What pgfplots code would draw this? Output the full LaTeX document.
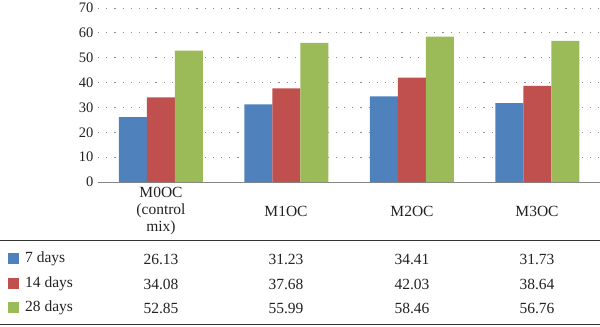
\documentclass[border=0pt]{standalone}
\usepackage{fontspec}
\setmainfont{Liberation Serif}
\usepackage{pgfplots}
\usepackage{pgfplotstable}
\pgfplotsset{compat=1.18}
\definecolor{cblue}{HTML}{4F81BD}
\definecolor{cred}{HTML}{C0504D}
\definecolor{cgreen}{HTML}{9BBB59}
\definecolor{gridc}{HTML}{8C8C8C}
\definecolor{axc}{HTML}{868686}
\definecolor{txt}{HTML}{222222}

\pgfplotstableread{
x d7 d14 d28
0 26.13 34.08 52.85
1 31.23 37.68 55.99
2 34.41 42.03 58.46
3 31.73 38.64 56.76
}\datatable

\begin{document}
\begin{tikzpicture}[x=1bp,y=1bp]
\useasboundingbox (0,0) rectangle (600,-326);
\begin{axis}[
  at={(98bp,-182bp)}, anchor=south west,
  scale only axis, width=502bp, height=174bp,
  xmin=-0.5, xmax=3.5, ymin=0, ymax=70,
  ybar=0pt, bar width=28bp,
  axis x line=bottom, axis y line=left,
  x axis line style={draw=axc, line width=1bp, -},
  y axis line style={draw=none},
  xtick=\empty, ytick={0,10,...,70},
  major tick length=0pt,
  ymajorgrids,
  grid style={draw=gridc, line width=1bp, dash pattern=on 1.2bp off 7bp},
  yticklabel style={font=\fontsize{14.5bp}{16bp}\selectfont, text=txt, xshift=-1bp},
  /pgf/number format/assume math mode=true,
  clip=false,
]
\addplot[fill=cblue, draw=none] table[x=x,y=d7]{\datatable};
\addplot[fill=cred, draw=none] table[x=x,y=d14]{\datatable};
\addplot[fill=cgreen, draw=none] table[x=x,y=d28]{\datatable};
\end{axis}

% table
\begin{scope}[every node/.style={font=\fontsize{15.5bp}{17bp}\selectfont, text=txt, inner sep=0pt}]
\node[align=center] at (161,-211) {M0OC\\(control\\mix)};
\node at (286,-211) {M1OC};
\node at (412,-211) {M2OC};
\node at (537,-211) {M3OC};
\draw[line width=1bp, draw=black!80] (0,-240) -- (600,-240);
\draw[line width=1bp, draw=black!80] (0,-324.5) -- (600,-324.5);
\fill[cblue] (8,-253) rectangle (19,-264);
\fill[cred] (8,-278) rectangle (19,-289);
\fill[cgreen] (8,-302) rectangle (19,-313);
\node[anchor=west] at (25,-259) {7 days};
\node[anchor=west] at (25,-284) {14 days};
\node[anchor=west] at (25,-308) {28 days};
\node at (161,-259) {26.13};
\node at (286,-259) {31.23};
\node at (412,-259) {34.41};
\node at (537,-259) {31.73};
\node at (161,-284) {34.08};
\node at (286,-284) {37.68};
\node at (412,-284) {42.03};
\node at (537,-284) {38.64};
\node at (161,-308) {52.85};
\node at (286,-308) {55.99};
\node at (412,-308) {58.46};
\node at (537,-308) {56.76};
\end{scope}
\end{tikzpicture}
\end{document}
